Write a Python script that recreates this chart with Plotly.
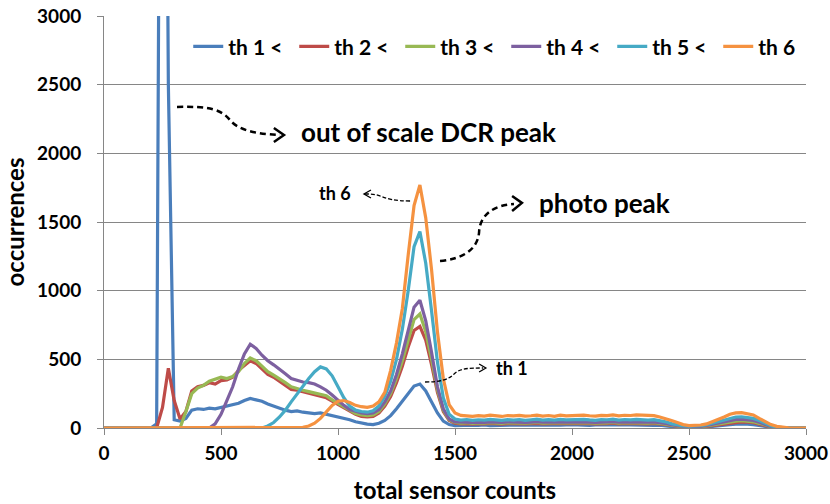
import plotly.graph_objects as go

# histogram bins (total sensor counts), 25-count steps
counts = list(range(0, 3001, 25))

th1 = [0, 0, 0, 0, 0, 0, 0, 0, 0, 30,
       9000, 2500, 60, 50, 70, 130, 140, 135, 145, 140,
       150, 155, 165, 180, 200, 215, 205, 195, 175, 160,
       140, 130, 120, 125, 115, 110, 105, 110, 100, 90,
       85, 75, 60, 45, 35, 28, 25, 35, 55, 90,
       140, 195, 255, 305, 320, 270, 190, 110, 50, 25,
       18, 20, 17, 21, 19, 22, 18, 20, 21, 19,
       22, 20, 19, 23, 21, 20, 22, 19, 21, 23,
       20, 22, 21, 19, 23, 22, 20, 24, 21, 22,
       23, 21, 20, 22, 19, 21, 15, 10, 5, 3,
       3, 3, 5, 8, 12, 18, 22, 25, 28, 30,
       28, 25, 18, 10, 5, 2, 0, 0, 0, 0,
       0]

th2 = [0, 0, 0, 0, 0, 0, 0, 0, 0, 0,
       150, 435, 200, 65, 120, 270, 300, 310, 330, 320,
       345, 350, 370, 420, 455, 490, 470, 430, 390, 370,
       340, 310, 280, 275, 265, 250, 245, 235, 220, 195,
       170, 145, 120, 100, 85, 80, 85, 110, 160, 230,
       330, 450, 590, 710, 740, 640, 460, 260, 120, 55,
       35, 30, 32, 28, 31, 29, 33, 30, 28, 32,
       30, 33, 29, 31, 34, 30, 32, 29, 33, 31,
       32, 30, 34, 31, 29, 33, 32, 35, 30, 33,
       31, 34, 32, 30, 33, 30, 25, 18, 12, 8,
       6, 6, 8, 12, 18, 25, 32, 38, 42, 45,
       42, 38, 28, 15, 8, 3, 0, 0, 0, 0,
       0]

th3 = [0, 0, 0, 0, 0, 0, 0, 0, 0, 0,
       0, 0, 0, 0, 120, 250, 290, 310, 340, 355,
       370, 360, 375, 410, 470, 510, 490, 450, 410, 385,
       360, 330, 300, 285, 275, 265, 255, 250, 235, 205,
       180, 150, 125, 105, 95, 90, 95, 120, 175, 250,
       360, 490, 640, 790, 830, 700, 500, 280, 130, 60,
       40, 36, 38, 34, 37, 35, 39, 36, 34, 38,
       36, 39, 35, 37, 40, 36, 38, 35, 39, 37,
       38, 36, 40, 37, 35, 39, 38, 41, 36, 39,
       37, 40, 38, 36, 39, 35, 28, 20, 14, 10,
       8, 8, 10, 15, 22, 30, 38, 45, 50, 53,
       50, 45, 34, 20, 10, 4, 0, 0, 0, 0,
       0]

th4 = [0, 0, 0, 0, 0, 0, 0, 0, 0, 0,
       0, 0, 0, 0, 0, 0, 0, 0, 0, 30,
       100, 200, 300, 430, 540, 610, 580, 530, 490, 460,
       430, 395, 360, 345, 335, 330, 320, 300, 275, 240,
       200, 165, 135, 120, 110, 105, 110, 135, 190, 270,
       390, 540, 710, 880, 930, 780, 550, 300, 140, 65,
       45, 42, 44, 40, 43, 41, 45, 42, 40, 44,
       42, 45, 41, 43, 46, 42, 44, 41, 45, 43,
       44, 42, 46, 43, 41, 45, 44, 47, 42, 45,
       43, 46, 44, 42, 45, 41, 33, 24, 16, 12,
       10, 10, 12, 18, 26, 36, 46, 55, 62, 65,
       62, 55, 42, 25, 12, 5, 0, 0, 0, 0,
       0]

th5 = [0, 0, 0, 0, 0, 0, 0, 0, 0, 0,
       0, 0, 0, 0, 0, 0, 0, 0, 0, 0,
       0, 0, 0, 0, 0, 0, 0, 0, 15, 40,
       80, 130, 190, 250, 310, 360, 410, 445, 430, 380,
       300, 220, 160, 130, 120, 115, 125, 160, 230, 340,
       500, 720, 1000, 1320, 1430, 1200, 850, 480, 220, 100,
       65, 58, 62, 55, 60, 57, 63, 58, 55, 61,
       58, 62, 56, 60, 64, 58, 61, 57, 63, 59,
       61, 58, 63, 59, 56, 62, 60, 64, 58, 62,
       59, 63, 60, 57, 61, 55, 45, 32, 22, 16,
       14, 14, 17, 24, 35, 48, 60, 72, 80, 82,
       78, 70, 54, 32, 16, 6, 2, 0, 0, 0,
       0]

th6 = [0, 0, 0, 0, 0, 0, 0, 0, 0, 0,
       0, 0, 0, 0, 0, 0, 0, 0, 0, 0,
       0, 0, 0, 0, 0, 0, 0, 0, 0, 0,
       0, 0, 0, 0, 5, 15, 35, 70, 120, 165,
       195, 200, 185, 165, 155, 150, 160, 190, 260, 420,
       620, 870, 1260, 1620, 1770, 1530, 1150, 700, 360, 170,
       110, 92, 88, 85, 90, 87, 93, 86, 84, 91,
       88, 92, 86, 89, 94, 87, 91, 85, 93, 88,
       90, 87, 94, 89, 86, 92, 90, 95, 88, 93,
       91, 95, 92, 88, 90, 80, 70, 55, 40, 25,
       18, 18, 22, 30, 45, 60, 80, 100, 110, 112,
       105, 95, 70, 45, 25, 12, 5, 2, 0, 0,
       0]

series_names = ["th 1 <", "th 2 <", "th 3 <", "th 4 <", "th 5 <", "th 6"]
series_values = [th1, th2, th3, th4, th5, th6]
colors = ["#4A7EBB", "#BE4B48", "#98B954", "#7D60A0", "#46AAC5", "#F59240"]

FONT = "Lato"

fig = go.Figure()
for name, vals, col in zip(series_names, series_values, colors):
    fig.add_trace(go.Scatter(x=counts, y=vals, mode="lines", name=name,
                             line=dict(color=col, width=3.2)))

# dashed pointer curves and their open arrowheads (data coordinates)
thick = dict(color="black", width=2.5, dash="6px,4px")
thin = dict(color="black", width=1.3, dash="4px,2px")
shapes = [
    ("M312,2338 C453,2345 504,2316 538,2243 C573,2170 645,2141 752,2134", thick),
    ("M726,2185 L769,2134 L726,2083", dict(color="black", width=2.5)),
    ("M1436,1216 C1530,1231 1598,1296 1603,1428 C1607,1559 1671,1624 1752,1631", thick),
    ("M1744,1690 L1786,1639 L1744,1580", dict(color="black", width=2.5)),
    ("M1308,1653 C1244,1653 1214,1668 1179,1690 C1158,1704 1137,1704 1115,1704", thin),
    ("M1141,1733 L1111,1704 L1141,1675", dict(color="black", width=1.3)),
    ("M1372,335 C1436,335 1470,350 1496,393 C1521,437 1564,437 1620,437", thin),
    ("M1603,466 L1632,437 L1603,408", dict(color="black", width=1.3)),
]
for path, ln in shapes:
    fig.add_shape(type="path", path=path, xref="x", yref="y", line=ln, layer="above")

big = dict(family=FONT, size=26, color="black", weight="bold")
small = dict(family=FONT, size=18, color="black", weight="bold")
fig.add_annotation(x=833, y=2156, text="out of scale DCR peak", showarrow=False,
                   xanchor="left", yanchor="middle", font=big)
fig.add_annotation(x=1850, y=1639, text="photo peak", showarrow=False,
                   xanchor="left", yanchor="middle", font=big)
fig.add_annotation(x=1066, y=1711, text="th 6", showarrow=False,
                   xanchor="right", yanchor="middle", font=small)
fig.add_annotation(x=1665, y=437, text="th 1", showarrow=False,
                   xanchor="left", yanchor="middle", font=small)

axis_common = dict(
    range=[0, 3000], dtick=500, tick0=0,
    showline=True, linecolor="#868686", linewidth=1,
    ticks="outside", ticklen=6, tickcolor="#868686",
    zeroline=False,
    tickfont=dict(family=FONT, size=19, color="black", weight="bold"),
)

title_font = dict(family=FONT, size=24, color="black", weight="bold")
fig.update_xaxes(**axis_common, showgrid=False, ticklabelstandoff=2,
                 title=dict(text="total sensor counts", standoff=20, font=title_font))
fig.update_yaxes(**axis_common, showgrid=True, gridcolor="#868686", gridwidth=1,
                 ticklabelstandoff=12,
                 title=dict(text="occurrences", standoff=8, font=title_font))

fig.update_layout(
    width=830, height=504,
    margin=dict(l=104, r=24, t=16, b=76, autoexpand=False),
    paper_bgcolor="white", plot_bgcolor="white",
    showlegend=True,
    legend=dict(orientation="h", x=0.12, xanchor="left", y=0.975, yanchor="top",
                bgcolor="rgba(255,255,255,0)", entrywidth=61, entrywidthmode="pixels",
                font=dict(family=FONT, size=21, color="black", weight="bold"),
                itemwidth=30, tracegroupgap=0),
)

fig.write_html("out.html")
